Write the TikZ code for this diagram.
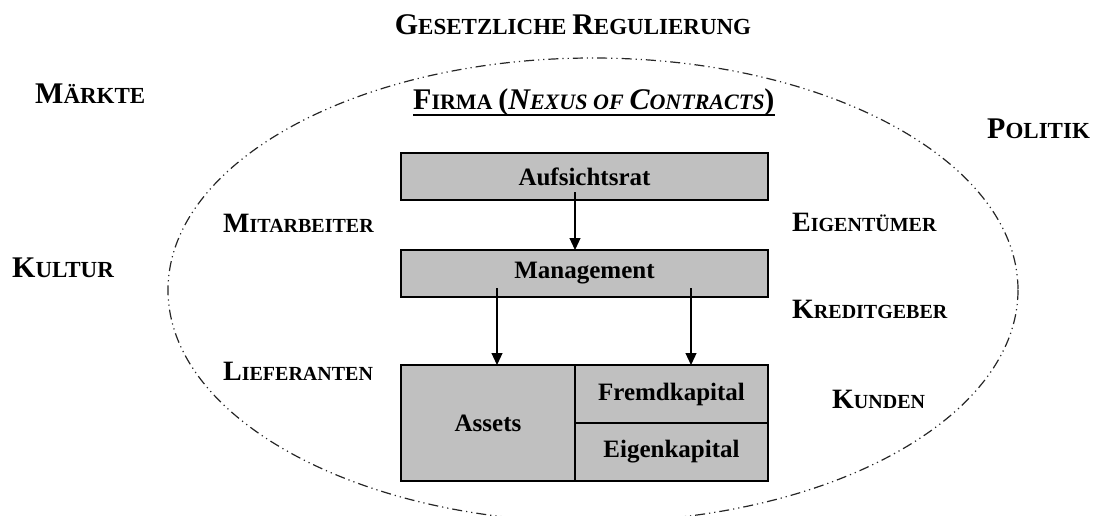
\documentclass[tikz,border=0pt]{standalone}
\usepackage{fontspec}
\setmainfont{Liberation Serif}
\usetikzlibrary{positioning, arrows.meta}
\definecolor{boxgray}{RGB}{192,192,192}
\newcommand\bigsc[2]{{\fontsize{30}{30}\selectfont #1}{\fontsize{23}{23}\selectfont #2}}
\newcommand\midsc[2]{{\fontsize{28}{28}\selectfont #1}{\fontsize{20}{20}\selectfont #2}}
\newcommand\firmsc[2]{{\fontsize{30}{30}\selectfont #1}{\fontsize{22}{22}\selectfont #2}}

\begin{document}
\begin{tikzpicture}[x=1pt,y=-1pt]
  \useasboundingbox (0,0) rectangle (1095,516);

  % Define block styles
  \tikzstyle{block} = [rectangle, draw, line width=1.5pt, fill=boxgray, inner sep=0pt, outer sep=0pt, font=\fontsize{25}{25}\selectfont\bfseries]
  \tikzstyle{wide} = [block, minimum width=367pt, minimum height=47pt]
  \tikzstyle{half} = [block, minimum width=193pt, minimum height=58pt]
  \tikzstyle{outer} = [inner sep=0pt, font=\fontsize{23}{23}\selectfont\bfseries]
  \tikzstyle{inner} = [inner sep=0pt, anchor=base west, font=\fontsize{20}{20}\selectfont\bfseries]
  \tikzstyle{arrow} = [line width=1.2pt, -{Triangle[length=12pt,width=11pt]}]
  \tikzstyle{border} = [line width=1.2pt, black!85, dash pattern=on 10pt off 4pt on 1.2pt off 4pt on 1.2pt off 4pt]

  % Firm border
  \draw [border] (593,290) ellipse [x radius=425, y radius=232];

  % Components
  \node (aufsicht) [wide] at (584.5,176.5) {Aufsichtsrat};
  \node (management) [wide, below=50pt of aufsicht] {Management};
  \node (assets) [block, minimum width=174pt, minimum height=116pt, below right=68pt and 0pt of management.south west] {Assets};
  \node (fremd) [half, below right=0pt and 0pt of assets.north east] {Fremdkapital};
  \node (eigen) [half, below=0pt of fremd] {Eigenkapital};

  % Arrows
  \draw [arrow] ([xshift=-9.5pt,yshift=8pt]aufsicht.south) -- ([xshift=-9.5pt]management.north);
  \draw [arrow] ([xshift=96pt,yshift=9pt]management.south west) -- ([xshift=96pt]assets.north west);
  \draw [arrow] ([xshift=-77pt,yshift=9pt]management.south east) -- ([xshift=-77pt]fremd.north east);

  % Labels
  \node (gesetz) [outer, anchor=base] at (573,35) {\bigsc{G}{ESETZLICHE} \bigsc{R}{EGULIERUNG}};
  \node (maerkte) [outer, anchor=base west] at (35,104) {\bigsc{M}{ÄRKTE}};
  \node (kultur) [outer, anchor=base west] at (12,277) {\bigsc{K}{ULTUR}};
  \node (politik) [outer, anchor=base west] at (987,139) {\bigsc{P}{OLITIK}};
  \node (firma) [outer, anchor=base west] at (413,110) {\firmsc{F}{IRMA} \firmsc{(}{}\textit{\firmsc{N}{EXUS} \firmsc{}{OF} \firmsc{C}{ONTRACTS}}\firmsc{)}{}};
  \draw [line width=2pt] ([yshift=-5pt]firma.base west) -- ([yshift=-5pt]firma.base east);

  \node (mitarb) [inner] at (223,232) {\midsc{M}{ITARBEITER}};
  \node (liefer) [inner] at (223,380) {\midsc{L}{IEFERANTEN}};
  \node (eigent) [inner] at (792,231) {\midsc{E}{IGENTÜMER}};
  \node (kredit) [inner] at (792,318) {\midsc{K}{REDITGEBER}};
  \node (kunden) [inner] at (832,408) {\midsc{K}{UNDEN}};

\end{tikzpicture}
\end{document}
